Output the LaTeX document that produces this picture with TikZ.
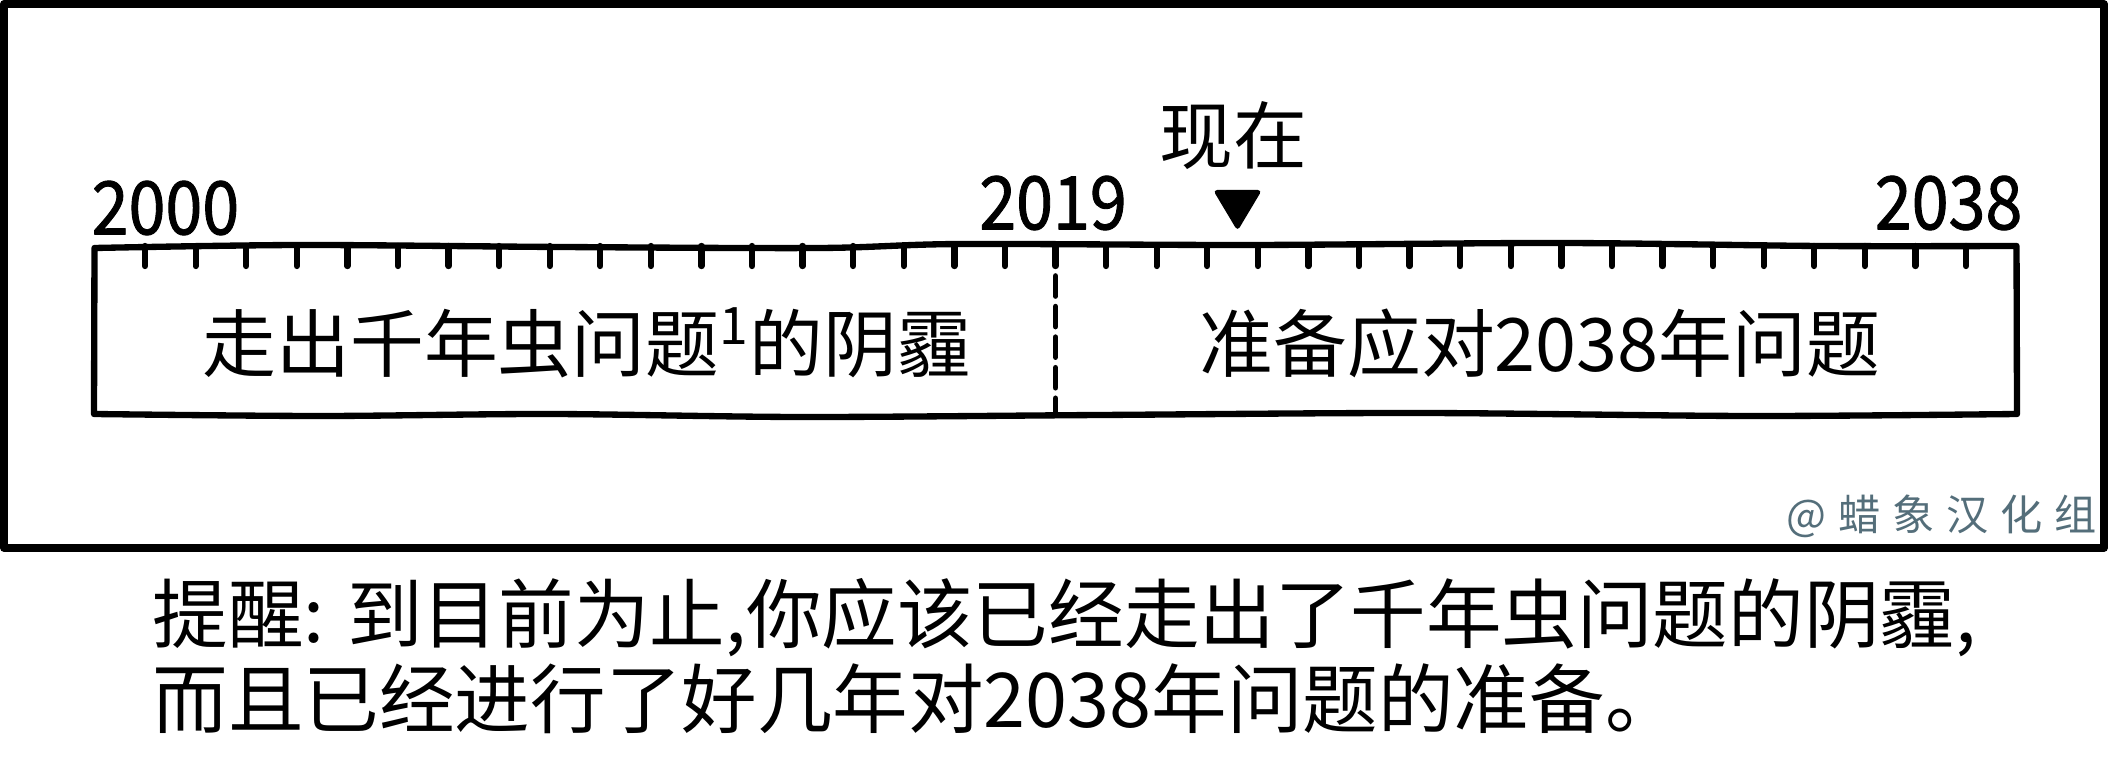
\documentclass[tikz,border=0pt]{standalone}
\usepackage{fontspec}
\setmainfont{Noto Sans CJK SC}
\newfontfamily\wmfont{Noto Sans CJK SC}[LetterSpace=28]
\newfontfamily\yearfont{Noto Sans CJK SC}[FakeStretch=0.9, FakeBold=1.2]
\usepackage{tikz}
\definecolor{wmblue}{RGB}{84,110,122}

\begin{document}
\begin{tikzpicture}[line cap=round, line join=round,
    year/.style={font=\fontsize{21}{21}\selectfont\yearfont, inner sep=0pt},
    era/.style={font=\fontsize{21}{21}\selectfont, inner sep=0pt},
    note/.style={font=\fontsize{21.5}{21.5}\selectfont, inner sep=0pt, anchor=west}]
  \useasboundingbox (0,0) rectangle (21.08,7.62);
  \draw[line width=2.2pt] (0.04,2.14) rectangle (21.04,7.58);

  % timeline box, slightly wobbly
  \draw[line width=1.8pt]
    plot[smooth] coordinates {(0.945,5.14) (3.0,5.17) (5.6,5.15) (8.2,5.14)
      (9.6,5.18) (12.5,5.17) (15.6,5.19) (18.2,5.16) (20.165,5.16)}
    -- (20.17,3.48)
    -- plot[smooth] coordinates {(20.17,3.48) (17.5,3.46) (14.2,3.49) (11.0,3.47)
      (8.0,3.45) (5.5,3.48) (3.2,3.46) (0.94,3.48)}
    -- cycle;
  \foreach \i in {1,...,37}
    \draw[line width=1.8pt] ({0.945+\i*0.5058},5.16) -- ++(0,-0.2);
  \draw[line width=1.6pt, dash pattern=on 5.7pt off 3pt] (10.555,4.86) -- (10.555,3.5);

  % year labels
  \node[year, anchor=west] (y2000) at (0.91,5.54) {2000};
  \node[year] (y2019) at (10.53,5.59) {2019};
  \node[year, anchor=east] (y2038) at (20.23,5.59) {2038};

  % now marker
  \fill[rounded corners=1.2pt] (12.13,5.72) -- (12.62,5.72) -- (12.375,5.31) -- cycle;
  \node[era] (now) at (12.33,6.26) {现在};

  % the two parts
  \node[era] (y2k) at (5.87,4.19) {走出千年虫问题\textsuperscript{1}的阴霾};
  \node[era] (y2038) at (15.40,4.19) {准备应对2038年问题};

  \node[font=\fontsize{12}{12}\selectfont\wmfont, text=wmblue, inner sep=0pt, anchor=east]
    (mark) at (20.97,2.46) {@蜡象汉化组};

  % caption under the panel
  \node[note] (line1) at (1.52,1.44) {提醒: 到目前为止,你应该已经走出了千年虫问题的阴霾,};
  \node[note] (line2) at (1.52,0.63) {而且已经进行了好几年对2038年问题的准备。};
\end{tikzpicture}
\end{document}
